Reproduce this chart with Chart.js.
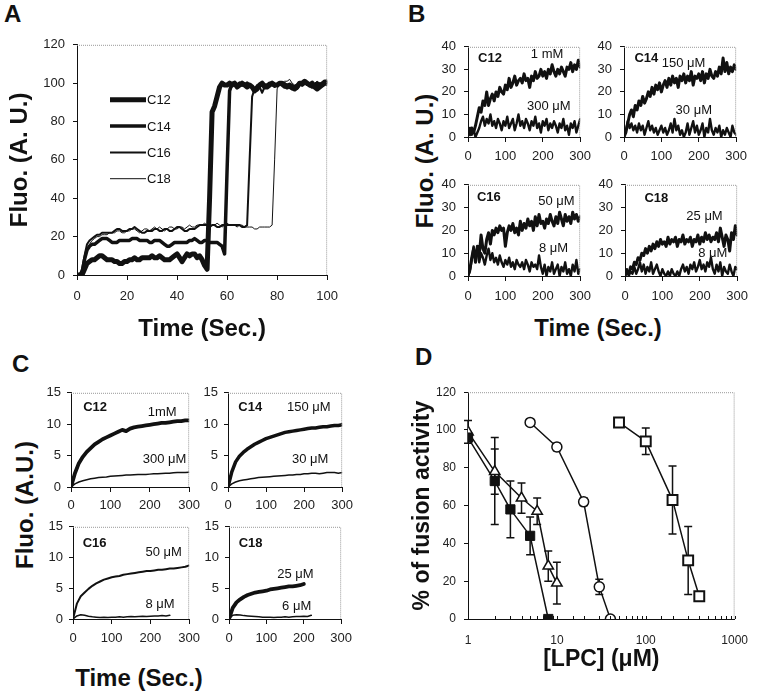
<!DOCTYPE html>
<html>
<head>
<meta charset="utf-8">
<script src="https://cdn.jsdelivr.net/npm/chart.js@4.4.0/dist/chart.umd.min.js"></script>
<style>
  body { margin: 0; background: #fff; }
  #fig { position: relative; width: 765px; height: 692px; overflow: hidden; font-family: "Liberation Sans", Arial, sans-serif; color: #111; }
  #fig canvas { position: absolute; }
  .lbl { position: absolute; font-weight: bold; line-height: 1; white-space: nowrap; }
  .rot { transform: translate(-50%, -50%) rotate(-90deg); }
  .mid { transform: translate(-50%, -50%); }
</style>
</head>
<body>
<div id="fig">
  <div class="lbl" style="left:4px;top:2px;font-size:24px">A</div>
  <div class="lbl" style="left:408px;top:2px;font-size:24px">B</div>
  <div class="lbl" style="left:12px;top:352px;font-size:24px">C</div>
  <div class="lbl" style="left:415px;top:345px;font-size:24px">D</div>
  <div class="lbl rot" style="left:425px;top:161px;font-size:24px">Fluo. (A. U.)</div>
  <div class="lbl mid" style="left:598px;top:328px;font-size:24px">Time (Sec.)</div>
  <div class="lbl rot" style="left:25px;top:505px;font-size:24px">Fluo. (A.U.)</div>
  <div class="lbl mid" style="left:139px;top:678px;font-size:24px">Time (Sec.)</div>
</div>
<script>
// ---- panel A : fusion traces, one point per second ----
const tA = [0,1,2,3,4,5,6,7,8,9,
  10,11,12,13,14,15,16,17,18,19,
  20,21,22,23,24,25,26,27,28,29,
  30,31,32,33,34,35,36,37,38,39,
  40,41,42,43,44,45,46,47,48,49,
  50,51,52,53,54,55,56,57,58,59,
  60,61,62,63,64,65,66,67,68,69,
  70,71,72,73,74,75,76,77,78,79,
  80,81,82,83,84,85,86,87,88,89,
  90,91,92,93,94,95,96,97,98,99,
  100];
const aC12 = [0,0,0,3,6,7,8,8,9,10,
  10,9,8,8,8,7,7,6,6,7,
  7,8,8,9,8,8,9,9,9,9,
  10,9,9,10,9,8,8,8,9,10,
  11,9,7,9,11,10,11,11,9,10,
  8,5,3,40,85,88,93,98,100,99,
  99,100,99,100,98,99,100,99,98,99,
  98,96,97,99,100,98,98,99,100,99,
  99,100,100,99,98,99,98,97,98,100,
  100,101,100,99,100,98,97,98,99,100,
  100];
const aC14 = [0,0,1,8,13,15,16,16,17,18,
  19,19,19,18,17,17,17,18,18,18,
  18,18,19,19,19,18,18,18,18,17,
  17,18,18,18,17,16,15,15,16,17,
  17,17,17,17,17,18,18,19,18,17,
  17,18,18,17,17,17,17,16,15,11,
  55,96,100,100,99,100,99,99,100,99,
  98,97,98,99,100,99,99,100,100,99,
  99,100,99,98,99,98,97,98,99,100,
  99,100,100,99,98,99,100,99,100,101,
  101];
const aC16 = [0,0,3,10,16,18,19,20,21,21,
  22,22,22,22,22,23,24,24,23,23,
  23,24,24,25,24,23,22,22,23,23,
  23,24,24,23,23,24,24,23,23,24,
  25,25,24,23,23,24,24,24,25,26,
  26,26,26,25,26,26,25,25,26,26,
  26,26,26,26,26,26,25,25,26,60,
  93,97,99,98,95,98,99,100,99,98,
  99,100,99,100,99,98,99,98,97,99,
  100,100,99,100,99,98,99,100,99,100,
  100];
const aC18 = [0,0,2,8,13,16,18,19,20,20,
  21,21,21,22,22,22,23,23,22,22,
  23,23,24,24,23,22,23,24,24,23,
  24,25,24,25,24,23,24,25,25,24,
  24,25,25,24,25,26,25,25,26,26,
  26,27,26,25,26,26,27,26,25,26,
  27,26,26,26,25,26,26,25,25,25,
  25,24,24,25,25,25,25,25,26,60,
  97,100,100,101,101,102,100,99,99,100,
  100,101,100,99,99,100,101,100,100,101,
  101];
const seriesA = ['C12', 'C14', 'C16', 'C18'];

// ---- panel B : raw traces, every 5 s ----
const tB = [0,5,10,15,20,25,30,35,40,45,
  50,55,60,65,70,75,80,85,90,95,
  100,105,110,115,120,125,130,135,140,145,
  150,155,160,165,170,175,180,185,190,195,
  200,205,210,215,220,225,230,235,240,245,
  250,255,260,265,270,275,280,285,290,295,
  300];
const bC12hi = [3,1,4,2,5,9,13,11,16,14, 20,14,17,19,16,20,18,22,20,19, 23,21,26,22,24,27,23,25,26,24,
  28,25,26,22,27,25,29,26,27,30, 27,29,26,30,28,32,29,27,30,28, 31,29,27,31,30,33,29,32,30,34, 31];
const bC12lo = [2,4,1,3,0,2,4,7,9,5, 8,6,10,5,7,4,8,6,3,7, 5,9,4,6,8,3,6,10,5,7,
  4,8,6,3,7,5,9,4,6,2, 7,5,8,3,6,4,7,5,2,6, 4,8,3,5,1,6,4,7,2,5, 8];
const bC14hi = [0,2,6,10,12,9,14,12,16,14, 18,15,17,20,18,22,19,23,21,24, 20,23,25,22,26,23,27,24,26,22,
  27,25,28,24,27,25,29,23,27,26, 28,25,29,24,28,26,30,27,26,29, 27,31,28,35,29,33,28,31,29,32, 30];
const bC14lo = [0,3,7,4,6,3,5,2,6,3, 5,1,4,7,3,5,2,4,1,3, 5,2,4,1,3,6,2,8,3,5,
  1,3,0,2,6,1,4,7,2,5, 1,3,6,0,4,2,8,3,1,4, 2,5,0,3,1,4,2,0,5,2, 1];
const bC16hi = [0,3,8,12,6,13,9,18,12,10, 16,19,14,20,18,21,19,22,20,21, 13,19,22,20,23,19,21,18,24,20,
  23,21,25,22,24,20,26,22,27,23, 24,21,25,23,27,24,22,26,23,28, 25,22,27,24,26,23,28,25,27,24, 26];
const bC16lo = [0,2,7,13,9,11,6,10,8,5, 9,12,7,10,6,8,5,9,6,4, 7,5,8,4,6,3,7,5,4,6,
  3,7,5,2,6,4,5,3,9,4, 1,5,0,4,2,6,1,3,5,0, 4,2,6,1,3,0,5,2,7,1, 3];
const bC18hi = [0,2,1,4,3,6,5,8,7,10, 9,12,10,13,11,14,12,15,13,16, 14,15,13,17,14,16,15,17,13,16,
  15,18,14,16,15,17,13,16,15,18, 14,17,15,19,16,18,15,17,16,19, 15,21,17,13,18,16,11,19,16,22, 18];
const bC18lo = [0,3,0,2,1,4,1,3,6,2, 5,1,4,2,6,1,3,5,2,0, 3,1,0,2,0,3,1,0,2,0,
  3,5,2,4,1,5,3,6,2,4, 7,3,5,2,6,4,8,3,1,5, 2,6,0,4,2,1,5,2,0,4, 3];

// ---- panel C : averaged traces, every 10 s ----
const tC = [0,10,20,30,40,50,60,70,80,90,
  100,110,120,130,140,150,160,170,180,190,
  200,210,220,230,240,250,260,270,280,290,
  300];
const cC12hi = [0,2.2,3.8,4.8,5.6,6.2,6.8,7.2,7.6,7.9, 8.2,8.5,8.8,9.1,8.9,9.3,9.5,9.6,9.7,9.8,
  9.9,10.0,10.1,10.2,10.2,10.3,10.4,10.5,10.5,10.6, 10.6];
const cC12lo = [0,0.5,0.8,1.0,1.15,1.3,1.4,1.5,1.55,1.6, 1.7,1.75,1.8,1.85,1.9,1.9,1.95,2.0,2.0,2.0,
  2.05,2.1,2.1,2.15,2.2,2.2,2.25,2.3,2.3,2.3, 2.35];
const cC14hi = [0,2.4,4.0,4.9,5.5,6.0,6.4,6.8,7.1,7.4, 7.7,7.9,8.1,8.3,8.5,8.7,8.8,8.9,9.0,9.1,
  9.2,9.3,9.4,9.4,9.5,9.6,9.6,9.7,9.8,9.8, 9.9];
const cC14lo = [0,0.5,0.8,1.0,1.1,1.2,1.3,1.4,1.5,1.55, 1.6,1.65,1.7,1.75,1.8,1.85,1.9,1.9,2.0,2.0,
  2.1,2.1,2.2,2.2,2.1,2.2,2.3,2.3,2.3,2.2, 2.3];
const cC16hi = [0,2.5,3.7,4.3,4.9,5.4,5.8,6.1,6.4,6.6, 6.8,6.9,7.0,7.2,7.3,7.4,7.5,7.6,7.7,7.8,
  7.8,7.9,8.0,8.0,8.1,8.2,8.2,8.3,8.4,8.5, 8.7];
const cC16lo = [0,0.5,0.7,0.6,0.45,0.35,0.3,0.25,0.3,0.25, 0.3,0.3,0.35,0.3,0.35,0.4,0.35,0.4,0.45,0.4,
  0.45,0.5,0.5,0.55,0.5,0.6];
const cC18hi = [0,1.8,2.7,3.2,3.6,3.9,4.1,4.3,4.4,4.5, 4.6,4.8,4.9,5.0,5.1,5.2,5.3,5.3,5.4,5.5, 5.7];
const cC18lo = [0,0.6,0.7,0.65,0.55,0.5,0.45,0.4,0.35,0.3, 0.3,0.3,0.25,0.3,0.3,0.35,0.3,0.35,0.4,0.4,
  0.45,0.4,0.6];

// ---- panel D : dose response, mean and error ----
const dConcSq = [1, 2, 3, 5, 8];          // filled squares
const dActSq = [96, 73, 58, 44, 0];
const dErrSq = [0, 23, 15, 10, 0];
const dConcTri = [1, 2, 4, 6, 8, 10];     // open triangles
const dActTri = [99, 78, 64, 57, 28, 19];
const dErrTri = [6, 12, 8, 7, 8, 11];
const dConcCirc = [5, 10, 20, 30, 40];    // open circles
const dActCirc = [104, 91, 62, 17, 0];
const dErrCirc = [0, 2, 2, 4, 0];
const dConcOpen = [50, 100, 200, 300, 400]; // open squares
const dActOpen = [104, 94, 63, 31, 12];
const dErrOpen = [0, 7, 18, 18, 1];

// in-plot labels: [text, x, y, bold]
const notesB12 = [['C12', 27, 35, true], ['1 mM', 168, 36.5], ['300 μM', 158, 13.7]];
const notesB14 = [['C14', 28, 35, true], ['150 μM', 101, 32.5], ['30 μM', 138, 12]];
const notesB16 = [['C16', 24, 34.5, true], ['50 μM', 188, 32.5], ['8 μM', 190, 12]];
const notesB18 = [['C18', 52, 34, true], ['25 μM', 164, 26], ['8 μM', 196, 10]];
const notesC12 = [['C12', 31, 12.7, true], ['1mM', 195, 11.9], ['300 μM', 182, 4.4]];
const notesC14 = [['C14', 27, 12.7, true], ['150 μM', 155, 12.7], ['30 μM', 168, 4.4]];
const notesC16 = [['C16', 25, 12.3, true], ['50 μM', 187, 10.8], ['8 μM', 187, 2.3]];
const notesC18 = [['C18', 26, 12.3, true], ['25 μM', 129, 7.2], ['6 μM', 142, 2]];

const FAMILY = '"Liberation Sans", Arial, sans-serif';
const INK = '#111';
const fig = document.getElementById('fig');

// dotted grey top / right border, like the spreadsheet frame
Chart.register({
  id: 'frame',
  afterDraw(chart) {
    const { ctx, chartArea: a } = chart;
    ctx.save();
    ctx.strokeStyle = '#999';
    ctx.lineWidth = 1;
    ctx.setLineDash([1, 1]);
    ctx.beginPath();
    ctx.moveTo(a.left, a.top + 0.5);
    ctx.lineTo(a.right - 0.5, a.top + 0.5);
    ctx.lineTo(a.right - 0.5, a.bottom);
    ctx.stroke();
    ctx.restore();
  }
});

function notes(list) {
  return {
    id: 'notes',
    afterDatasetsDraw(chart) {
      const { ctx, scales: { x, y } } = chart;
      ctx.save();
      ctx.fillStyle = INK;
      ctx.textBaseline = 'middle';
      list.forEach(([text, vx, vy, bold]) => {
        ctx.font = (bold ? 'bold 13px ' : '13px ') + FAMILY;
        ctx.fillText(text, x.getPixelForValue(vx), y.getPixelForValue(vy));
      });
      ctx.restore();
    }
  };
}

function pts(xs, ys) {
  return ys.map((v, i) => ({ x: xs[i], y: v }));
}

function line(xs, ys, width, extra) {
  return Object.assign({
    data: pts(xs, ys), borderColor: INK, borderWidth: width,
    pointRadius: 0, tension: 0, borderJoinStyle: 'round', borderCapStyle: 'round'
  }, extra || {});
}

// plot = [left, top, right, bottom] of the plotting area on the page
function panel(plot, o, datasets, plugins) {
  const [pl, pt, pr, pb] = plot;
  const padT = 10, padR = 16;
  const left = pl - o.yW, top = pt - padT;
  const w = pr + padR - left, h = pb + o.xH - top;
  const c = document.createElement('canvas');
  c.width = w; c.height = h;
  c.style.left = left + 'px'; c.style.top = top + 'px';
  c.style.width = w + 'px'; c.style.height = h + 'px';
  fig.appendChild(c);
  const tickFont = { family: FAMILY, size: o.fs || 13 };
  const titleFont = { family: FAMILY, size: o.ts || 24, weight: 'bold', lineHeight: 1 };
  return new Chart(c, {
    type: 'line',
    data: { datasets },
    plugins: plugins || [],
    options: {
      responsive: false,
      animation: false,
      layout: { autoPadding: false, padding: { top: padT, right: padR, left: 0, bottom: 0 } },
      plugins: { legend: { display: false }, tooltip: { enabled: false } },
      scales: {
        x: {
          type: o.xType || 'linear', min: o.xMin, max: o.xMax,
          afterFit: s => { s.height = o.xH; },
          ticks: { stepSize: o.xStep, font: tickFont, color: '#222', padding: o.xPad, maxRotation: 0, autoSkip: false, callback: o.xCb },
          grid: { drawOnChartArea: false, drawTicks: o.xTicks !== false, tickLength: 5, color: INK },
          border: { color: INK, width: 1 },
          title: o.xTitle
            ? { display: true, text: o.xTitle, font: titleFont, color: INK, padding: { top: 0, bottom: o.xTitlePad } }
            : { display: false }
        },
        y: {
          min: 0, max: o.yMax,
          afterFit: s => { s.width = o.yW; },
          ticks: { stepSize: o.yStep, font: tickFont, color: '#222', padding: o.yPad },
          grid: { drawOnChartArea: false, tickLength: 4, color: INK },
          border: { color: INK, width: 1 },
          title: o.yTitle
            ? { display: true, text: o.yTitle, font: titleFont, color: INK, padding: { top: o.yTitlePad, bottom: 0 } }
            : { display: false }
        }
      }
    }
  });
}

// ---------- A ----------
const widthsA = [5, 3.5, 2, 1];
const legendA = {
  id: 'legendA',
  afterDatasetsDraw(chart) {
    const { ctx, chartArea: a } = chart;
    ctx.save();
    chart.data.datasets.forEach((ds, i) => {
      const y = a.top + 55 + i * 26.3, x = a.left + 33;
      ctx.strokeStyle = INK;
      ctx.lineWidth = ds.borderWidth;
      ctx.beginPath(); ctx.moveTo(x, y); ctx.lineTo(x + 36, y); ctx.stroke();
      ctx.fillStyle = INK;
      ctx.font = '13px ' + FAMILY;
      ctx.textBaseline = 'middle';
      ctx.fillText(ds.label, x + 37, y + 1);
    });
    ctx.restore();
  }
};
panel([77, 39, 331, 275],
  { yW: 77, xH: 72, xMin: 0, xMax: 100, xStep: 20, yMax: 120, yStep: 20, xPad: 9, yPad: 8,
    xTitle: 'Time (Sec.)', xTitlePad: 6, yTitle: 'Fluo. (A. U.)', yTitlePad: 8 },
  [aC12, aC14, aC16, aC18].map((v, i) => line(tA, v, widthsA[i], { label: seriesA[i] })),
  [legendA]);

// ---------- B ----------
const optB = { yW: 40, xH: 30, xMin: 0, xMax: 300, xStep: 100, yMax: 40, yStep: 10, xPad: 7, yPad: 8 };
panel([468, 41, 582, 137], optB, [line(tB, bC12lo, 2.4), line(tB, bC12hi, 3)], [notes(notesB12)]);
panel([624, 41, 738, 137], optB, [line(tB, bC14lo, 2.4), line(tB, bC14hi, 3)], [notes(notesB14)]);
panel([468, 179, 583, 276], Object.assign({}, optB, { xPad: 8 }), [line(tB, bC16lo, 2.4), line(tB, bC16hi, 3)], [notes(notesB16)]);
panel([625, 179, 740, 276], Object.assign({}, optB, { xPad: 8 }), [line(tB, bC18lo, 2.4), line(tB, bC18hi, 3)], [notes(notesB18)]);

// ---------- C ----------
const optC = { yW: 40, xH: 30, xMin: 0, xMax: 300, xStep: 100, yMax: 15, yStep: 5, xPad: 6, yPad: 6 };
panel([71, 389, 190, 487], optC, [line(tC, cC12lo, 1.5), line(tC, cC12hi, 3.8)], [notes(notesC12)]);
panel([228, 389, 343, 487], optC, [line(tC, cC14lo, 1.5), line(tC, cC14hi, 3.5)], [notes(notesC14)]);
panel([73, 523, 191, 619], Object.assign({}, optC, { xPad: 7 }), [line(tC, cC16lo, 1.5), line(tC, cC16hi, 2)], [notes(notesC16)]);
panel([229, 523, 343, 619], Object.assign({}, optC, { xPad: 7 }), [line(tC, cC18lo, 1.5), line(tC, cC18hi, 3.8)], [notes(notesC18)]);

// ---------- D ----------
const errorBars = {
  id: 'errorBars',
  beforeDatasetsDraw(chart) {
    const { ctx } = chart;
    const y = chart.scales.y;
    ctx.save();
    ctx.strokeStyle = INK;
    ctx.lineWidth = 1.5;
    chart.data.datasets.forEach((ds, i) => {
      const meta = chart.getDatasetMeta(i);
      ds.err.forEach((e, j) => {
        if (!e) return;
        const px = meta.data[j].x, v = ds.data[j].y;
        const hi = y.getPixelForValue(v + e), lo = y.getPixelForValue(v - e);
        ctx.beginPath();
        ctx.moveTo(px, hi); ctx.lineTo(px, lo);
        ctx.moveTo(px - 4, hi); ctx.lineTo(px + 4, hi);
        ctx.moveTo(px - 4, lo); ctx.lineTo(px + 4, lo);
        ctx.stroke();
      });
    });
    ctx.restore();
  }
};
// small inward tick marks on the log axis
const logTicks = {
  id: 'logTicks',
  afterDraw(chart) {
    const { ctx, chartArea: a } = chart;
    const x = chart.scales.x;
    ctx.save();
    ctx.strokeStyle = INK;
    ctx.lineWidth = 1;
    x.ticks.forEach(t => {
      const px = Math.round(x.getPixelForValue(t.value)) + 0.5;
      ctx.beginPath(); ctx.moveTo(px, a.bottom); ctx.lineTo(px, a.bottom - 3); ctx.stroke();
    });
    ctx.restore();
  }
};
function marker(xs, ys, err, style, r, fill, bw) {
  return line(xs, ys, 1.5, {
    err, pointStyle: style, pointRadius: r, pointBackgroundColor: fill,
    pointBorderColor: INK, pointBorderWidth: bw
  });
}
panel([468, 387, 746, 619],
  { yW: 60, xH: 55, xType: 'logarithmic', xMin: 1, xMax: 1000, xPad: 14, xTicks: false, fs: 12,
    xCb: v => (Math.abs(Math.log10(v) % 1) < 1e-9 ? String(v) : ''),
    yMax: 120, yStep: 20, yPad: 8, ts: 23,
    xTitle: '[LPC] (μM)', xTitlePad: 3, yTitle: '% of fusion activity', yTitlePad: 3 },
  [
    marker(dConcSq, dActSq, dErrSq, 'rect', 6.5, INK, 1),
    marker(dConcTri, dActTri, dErrTri, 'triangle', 6, '#fff', 1.5),
    marker(dConcCirc, dActCirc, dErrCirc, 'circle', 5, '#fff', 1.5),
    marker(dConcOpen, dActOpen, dErrOpen, 'rect', 7, '#fff', 2)
  ],
  [errorBars, logTicks]);
</script>
</body>
</html>
